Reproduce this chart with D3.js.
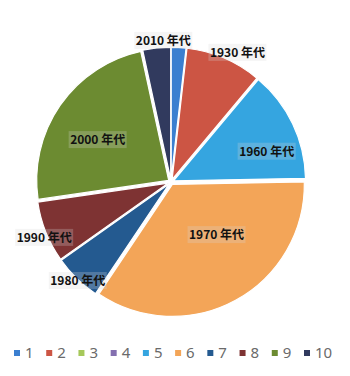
<!DOCTYPE html>
<html>
<head>
<meta charset="utf-8">
<style>
  body { margin: 0; background: #fff; }
  svg { display: block; }
</style>
</head>
<body>
<svg id="chart" width="350" height="376"></svg>
<script src="https://d3js.org/d3.v7.min.js"></script>
<script>
  // data (percent share of the pie)
  const categories = ['1', '2', '3', '4', '5', '6', '7', '8', '9', '10']
  const values = [1.8, 9.3, 0, 0, 13.6, 34.7, 5.8, 7.5, 23.9, 3.4]
  const labels = ['', '1930 年代', '', '', '1960 年代', '1970 年代', '1980 年代', '1990 年代', '2000 年代', '2010 年代']
  const colors = ['#3b7fd0', '#cc5544', '#a6c85a', '#8470b0', '#35a5e0', '#f3a558', '#245a90', '#7e3333', '#6c8b31', '#313a5e']

  // where each label sits: radius as a fraction of the pie radius, plus a small angle nudge (degrees)
  const labelLayout = {
    '2': [1.10, 4], '5': [0.76, 8], '6': [0.53, -12], '7': [1.03, -1],
    '8': [1.05, -2], '9': [0.64, -5], '10': [1.07, 3]
  }

  const svg = d3.select('#chart')
  const cx = 171, cy = 182, r = 132

  const data = categories.map((c, i) => ({ cat: c, value: values[i], label: labels[i], color: colors[i] }))

  const pie = d3.pie().sort(null).value(d => d.value)
  const arc = d3.arc().innerRadius(0).outerRadius(r)
  const arcs = pie(data).filter(d => d.value > 0)

  const g = svg.append('g').attr('transform', `translate(${cx},${cy})`)

  // exploded slices
  g.selectAll('path')
    .data(arcs)
    .enter()
    .append('path')
    .attr('d', arc)
    .attr('transform', d => {
      const a = (d.startAngle + d.endAngle) / 2
      return `translate(${Math.sin(a) * 2.8},${-Math.cos(a) * 2.8})`
    })
    .style('fill', d => d.data.color)
    .style('stroke', '#fff')
    .style('stroke-width', 1.2)

  // data labels
  const lab = g.selectAll('g.lab')
    .data(arcs.filter(d => d.data.label))
    .enter()
    .append('g')
    .attr('class', 'lab')
    .attr('transform', d => {
      const [f, nudge] = labelLayout[d.data.cat]
      const a = (d.startAngle + d.endAngle) / 2 + nudge * Math.PI / 180
      return `translate(${Math.sin(a) * r * f},${-Math.cos(a) * r * f})`
    })

  lab.append('rect')
    .attr('x', -29).attr('y', -9).attr('width', 58).attr('height', 17)
    .style('fill', '#d8d8d8').style('opacity', 0.25)

  lab.append('text')
    .attr('text-anchor', 'middle')
    .attr('dy', '0.36em')
    .style('font-family', '"Noto Sans CJK JP", "Noto Sans", sans-serif')
    .style('font-weight', 'bold')
    .style('font-size', '12px')
    .style('fill', '#111')
    .text(d => d.data.label)

  // legend
  const legendX = d3.scalePoint().domain(categories).range([17, 307])
  const leg = svg.selectAll('g.leg')
    .data(data)
    .enter()
    .append('g')
    .attr('class', 'leg')
    .attr('transform', d => `translate(${legendX(d.cat)},353)`)

  leg.append('rect')
    .attr('x', -3).attr('y', -3).attr('width', 6).attr('height', 6)
    .style('fill', d => d.color)

  leg.append('text')
    .attr('x', 8)
    .attr('dy', '0.36em')
    .style('font-family', '"Noto Sans", sans-serif')
    .style('font-size', '15px')
    .style('fill', '#6a6a6a')
    .text(d => d.cat)
</script>
</body>
</html>
